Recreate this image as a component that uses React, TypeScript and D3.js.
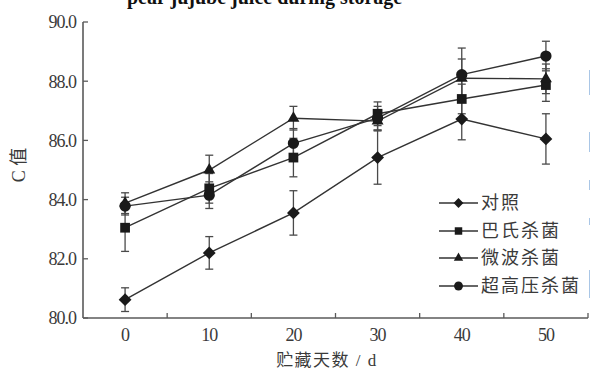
import React from "react";
import * as d3 from "d3";

// Storage days
const days = [0, 10, 20, 30, 40, 50];

// Mean values per treatment
const controlMean = [80.62, 82.2, 83.55, 85.42, 86.72, 86.05];
const pasteurMean = [83.05, 84.38, 85.42, 86.9, 87.4, 87.87];
const microwaveMean = [83.88, 85.0, 86.75, 86.65, 88.1, 88.08];
const hppMean = [83.78, 84.15, 85.9, 86.75, 88.22, 88.85];

// Standard deviations per treatment
const controlErr = [0.4, 0.55, 0.75, 0.9, 0.7, 0.85];
const pasteurErr = [0.8, 0.5, 0.65, 0.4, 0.5, 0.55];
const microwaveErr = [0.35, 0.5, 0.4, 0.3, 0.65, 0.5];
const hppErr = [0.3, 0.45, 0.5, 0.4, 0.9, 0.5];

const seriesNames = ["对照", "巴氏杀菌", "微波杀菌", "超高压杀菌"];

const yTicks = [80, 82, 84, 86, 88, 90];
const xLabelTicks = [0, 10, 20, 30, 40, 50];
const xMinorTicks = [5, 15, 25, 35, 45, 55];

const W = 590;
const H = 369;

const diamondType = (d3 as any).symbolDiamond2 || d3.symbolDiamond;

const series = [
  { name: seriesNames[0], mean: controlMean, err: controlErr, type: diamondType, size: 105, legendSize: 62 },
  { name: seriesNames[1], mean: pasteurMean, err: pasteurErr, type: d3.symbolSquare, size: 95, legendSize: 56 },
  { name: seriesNames[2], mean: microwaveMean, err: microwaveErr, type: d3.symbolTriangle, size: 62, legendSize: 38 },
  { name: seriesNames[3], mean: hppMean, err: hppErr, type: d3.symbolCircle, size: 100, legendSize: 62 },
];

export default function App() {
  const x = d3.scaleLinear().domain([-5, 55]).range([83, 588]);
  const y = d3.scaleLinear().domain([80, 90]).range([318, 22]);
  const line = d3
    .line<[number, number]>()
    .x((d) => x(d[0]))
    .y((d) => y(d[1]));

  const axisColor = "#5a5a5a";
  const ink = "#1a1a1a";
  const textColor = "#3a3a3a";
  const serif = "'Liberation Serif', 'Times New Roman', serif";
  const cjk = "'Liberation Serif', 'Noto Sans CJK SC', serif";

  const legendX0 = 439;
  const legendX1 = 478;
  const legendRows = [203, 231, 258, 286];

  return (
    <svg
      width={W}
      height={H}
      style={{ position: "absolute", left: 0, top: 0, background: "#fff" }}
    >
      {/* title line running off the top edge */}
      <text
        x={127}
        y={4}
        fontFamily={serif}
        fontWeight="bold"
        fontSize={20}
        fill="#111"
      >
        pear jujube juice during storage
      </text>

      {/* axes */}
      <line x1={x(-5)} x2={x(-5)} y1={y(90)} y2={y(80)} stroke={axisColor} strokeWidth={1.6} />
      <line x1={x(-5)} x2={x(55)} y1={y(80)} y2={y(80)} stroke={axisColor} strokeWidth={1.6} />
      {yTicks.map((t) => (
        <g key={"yt" + t}>
          <line x1={x(-5)} x2={x(-5) + 5} y1={y(t)} y2={y(t)} stroke={axisColor} strokeWidth={1.3} />
          <text
            x={76}
            y={y(t)}
            dy="0.35em"
            textAnchor="end"
            fontFamily={serif}
            fontSize={18}
            letterSpacing={-1}
            fill={textColor}
          >
            {d3.format(".1f")(t)}
          </text>
        </g>
      ))}
      {xMinorTicks.map((t) => (
        <line key={"xt" + t} x1={x(t)} x2={x(t)} y1={y(80)} y2={y(80) - 5} stroke={axisColor} strokeWidth={1.3} />
      ))}
      {xLabelTicks.map((t) => (
        <text
          key={"xl" + t}
          x={x(t)}
          y={341}
          textAnchor="middle"
          fontFamily={serif}
          fontSize={18}
          letterSpacing={-1}
          fill={textColor}
        >
          {t}
        </text>
      ))}

      {/* axis titles */}
      <text
        x={327}
        y={366}
        textAnchor="middle"
        fontFamily={cjk}
        fontSize={17}
        letterSpacing={1.5}
        fill={textColor}
      >
        贮藏天数 / d
      </text>
      <text
        transform={`translate(25,165) rotate(-90)`}
        textAnchor="middle"
        fontFamily={cjk}
        fontSize={18}
        fill={textColor}
      >
        C 值
      </text>

      {/* error bars */}
      {series.map((s) =>
        days.map((d, i) => {
          const cx = x(d);
          const top = y(s.mean[i] + s.err[i]);
          const bot = y(s.mean[i] - s.err[i]);
          return (
            <g key={s.name + "e" + i} stroke="#4a4a4a" strokeWidth={1.3}>
              <line x1={cx} x2={cx} y1={top} y2={bot} />
              <line x1={cx - 4} x2={cx + 4} y1={top} y2={top} />
              <line x1={cx - 4} x2={cx + 4} y1={bot} y2={bot} />
            </g>
          );
        })
      )}

      {/* lines */}
      {series.map((s) => (
        <path
          key={s.name + "l"}
          d={line(days.map((d, i) => [d, s.mean[i]] as [number, number])) || ""}
          fill="none"
          stroke="#333"
          strokeWidth={1.4}
        />
      ))}

      {/* markers */}
      {series.map((s) =>
        days.map((d, i) => (
          <path
            key={s.name + "m" + i}
            transform={`translate(${x(d)},${y(s.mean[i])})`}
            d={d3.symbol().type(s.type).size(s.size)() || ""}
            fill={ink}
          />
        ))
      )}

      {/* legend */}
      {series.map((s, i) => (
        <g key={s.name + "lg"}>
          <line x1={legendX0} x2={legendX1} y1={legendRows[i]} y2={legendRows[i]} stroke="#333" strokeWidth={1.4} />
          <path
            transform={`translate(${(legendX0 + legendX1) / 2},${legendRows[i]})`}
            d={d3.symbol().type(s.type).size(s.legendSize)() || ""}
            fill={ink}
          />
          <text
            x={481}
            y={legendRows[i]}
            dy="0.36em"
            fontFamily={cjk}
            fontSize={18}
            letterSpacing={2}
            fill={textColor}
          >
            {s.name}
          </text>
        </g>
      ))}

      {/* page edge marks */}
      <g stroke="#a9c6e6" strokeWidth={1}>
        <line x1={589.5} x2={589.5} y1={70} y2={95} />
        <line x1={589.5} x2={589.5} y1={132} y2={152} />
        <line x1={589.5} x2={589.5} y1={180} y2={190} />
        <line x1={589.5} x2={589.5} y1={218} y2={225} />
        <line x1={589.5} x2={589.5} y1={270} y2={298} />
      </g>
    </svg>
  );
}
